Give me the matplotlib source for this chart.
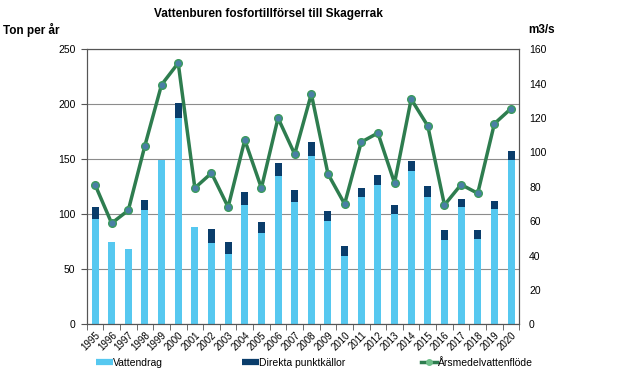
import matplotlib
matplotlib.use("Agg")
import matplotlib.pyplot as plt
import numpy as np
from matplotlib.lines import Line2D

plt.rcParams['font.family'] = ['Liberation Sans', 'DejaVu Sans']

years = [str(y) for y in range(1995, 2021)]
vattendrag = [95.5, 74.5, 68, 103.6, 149.7, 187.5, 88.2, 73.6, 63.6, 108.2, 82.7, 134.5,
              110.9, 152.7, 93.6, 61.8, 115.5, 126.4, 100, 139, 115.5, 76.4, 106.4, 77.3, 104.5, 149.4]
punktkallor = [10.9, 0, 0, 9.1, 0, 13.4, 0, 12.8, 10.9, 11.8, 10.0, 11.9,
               10.9, 12.8, 9.1, 9.1, 8.1, 9.1, 8.2, 9.2, 10.0, 9.1, 7.2, 8.2, 7.3, 7.9]
vattenflode = [81.3, 58.8, 66.3, 104, 139.4, 152, 79.3, 88, 68.2, 107.2, 79.3, 120,
               99, 134, 87.5, 70, 106, 111.3, 82.2, 131, 115.4, 69.4, 81.3, 76.2, 116.7, 125.5]

light = '#56C8F0'
dark = '#0A3D6B'
green = '#2E7D4F'
mfill = '#4A7FA5'

fig = plt.figure(figsize=(6.17, 3.83), dpi=100)
ax = fig.add_axes([0.1405, 0.1533, 0.7012, 0.718])
x = np.arange(len(years))
w = 0.42
ax.bar(x, vattendrag, w, color=light, zorder=2)
ax.bar(x, punktkallor, w, bottom=vattendrag, color=dark, zorder=2)
ax.set_xlim(-0.5, len(years) - 0.5)
ax.set_ylim(0, 250)
ax.set_yticks(range(0, 251, 50))
ax.yaxis.grid(True, color='#8c8c8c', linewidth=0.8, zorder=0)
ax.set_axisbelow(True)
ax.set_xticks(x)
ax.set_xticklabels(years, rotation=45, ha='right', rotation_mode='anchor', fontsize=7)
ax.set_xticks(np.arange(-0.5, len(years), 1), minor=True)
ax.tick_params(axis='x', which='major', length=0, pad=4)
ax.tick_params(axis='x', which='minor', length=4, color='#555555', direction='out')
ax.tick_params(axis='y', labelsize=7.5, length=4, color='#555555', pad=4)
for s in ax.spines.values():
    s.set_color('#555555')
    s.set_linewidth(0.8)

ax2 = ax.twinx()
ax2.plot(x, vattenflode, color=green, linewidth=2.5, marker='o', markersize=5.5,
         markerfacecolor=mfill, markeredgecolor='#3a9a5c', markeredgewidth=1, zorder=3)
ax2.set_ylim(0, 160)
ax2.set_yticks(range(0, 161, 20))
ax2.tick_params(axis='y', labelsize=7.5, length=0, pad=7)
for s in ax2.spines.values():
    s.set_color('#555555')
    s.set_linewidth(0.8)

fig.text(0.4345, 0.963, 'Vattenburen fosfortillförsel till Skagerrak', ha='center', va='center',
         fontsize=8.5, fontweight='bold')
fig.text(0.005, 0.922, 'Ton per år', ha='left', va='center', fontsize=8.5, fontweight='bold')
fig.text(0.856, 0.922, 'm3/s', ha='left', va='center', fontsize=8.5, fontweight='bold')

handles = [Line2D([], [], color=light, linewidth=4.5, solid_capstyle='butt'),
           Line2D([], [], color=dark, linewidth=4.5, solid_capstyle='butt'),
           Line2D([], [], color=green, linewidth=2.5, marker='o', markersize=4,
                  markerfacecolor='#6fbf8a', markeredgecolor='#6fbf8a')]
labels = ['Vattendrag', 'Direkta punktkällor', 'Årsmedelvattenflöde']
xs = [0.1556, 0.392, 0.682]
for h, l, xx in zip(handles, labels, xs):
    fig.legend([h], [l], loc='center left', bbox_to_anchor=(xx, 0.052), frameon=False,
               fontsize=7.5, handlelength=1.6, handletextpad=0.05, borderaxespad=0,
               borderpad=0)

fig.savefig('out.png', dpi=100)
